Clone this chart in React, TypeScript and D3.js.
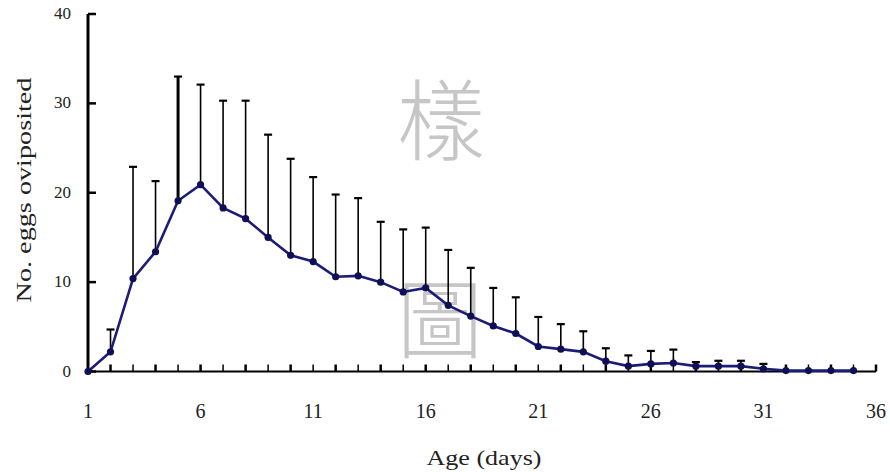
import React from "react";
import * as d3 from "d3";

const days = [1,2,3,4,5,6,7,8,9,10,11,12,13,14,15,16,17,18,19,20,21,22,23,24,25,26,27,28,29,30,31,32,33,34,35];
const meanEggs = [0,2.2,10.4,13.4,19.1,20.9,18.3,17.1,15.0,13.0,12.3,10.6,10.7,10.0,8.9,9.35,7.4,6.2,5.1,4.25,2.8,2.5,2.2,1.15,0.6,0.85,0.95,0.6,0.6,0.6,0.3,0.1,0.1,0.1,0.1];
const upperEggs = [0,4.7,22.9,21.3,33.0,32.1,30.3,30.3,26.5,23.8,21.75,19.8,19.4,16.75,15.9,16.1,13.6,11.6,9.35,8.3,6.1,5.3,4.5,2.6,1.8,2.3,2.45,1.05,1.2,1.2,0.85,0.1,0.1,0.1,0.1];
const xTicks = [1,6,11,16,21,26,31,36];
const yTicks = [0,10,20,30,40];

const W = 890, H = 472;
const SERIF = "'Times New Roman', 'Liberation Serif', Times, serif";

export default function App() {
  const x = d3.scaleLinear().domain([1, 36]).range([88, 876]);
  const y = d3.scaleLinear().domain([0, 40]).range([371.5, 14]);
  const line = d3.line<number>().x((_, i) => x(days[i])).y((d) => y(d));
  const allDays = d3.range(1, 37);
  return (
    <svg width={W} height={H} style={{ position: "absolute", left: 0, top: 0, background: "#fff" }}>
      <rect width={W} height={H} fill="#fff" />
      {/* watermark */}
      <text x={441} y={153} fontSize={88} fill="#c6c6c6" textAnchor="middle" fontFamily="'Noto Sans CJK TC', sans-serif" fontWeight={300}>樣</text>
      <text x={440} y={352} fontSize={86} fill="#c6c6c6" textAnchor="middle" fontFamily="'Noto Sans CJK TC', sans-serif" fontWeight={300}>圖</text>

      {/* error bars */}
      {days.map((d, i) =>
        upperEggs[i] - meanEggs[i] > 0.2 ? (
          <g key={"e" + d} stroke="#000">
            <line x1={x(d)} x2={x(d)} y1={y(meanEggs[i])} y2={y(upperEggs[i])} strokeWidth={d === 5 ? 3 : 1.6} />
            <line x1={x(d) - 4} x2={x(d) + 4} y1={y(upperEggs[i])} y2={y(upperEggs[i])} strokeWidth={2.2} />
          </g>
        ) : null
      )}

      {/* axes */}
      <line x1={88} x2={88} y1={y(40)} y2={y(0)} stroke="#000" strokeWidth={3} />
      <line x1={86.5} x2={x(36)} y1={y(0)} y2={y(0)} stroke="#000" strokeWidth={2} />
      {yTicks.map((t) => (
        <g key={"yt" + t}>
          <line x1={88} x2={96} y1={y(t)} y2={y(t)} stroke="#000" strokeWidth={2.5} />
          <text x={71} y={y(t) + 5} fontSize={17} textAnchor="end" fontFamily={SERIF} fill="#222">{t}</text>
        </g>
      ))}
      {allDays.map((d) => (
        <line key={"xt" + d} x1={x(d)} x2={x(d)} y1={y(0)} y2={y(0) - 7} stroke="#000" strokeWidth={d % 2 === 0 ? 2.5 : 1.5} />
      ))}
      {xTicks.map((t) => (
        <text key={"xl" + t} x={x(t)} y={418} fontSize={20} textAnchor="middle" fontFamily={SERIF} fill="#222">{t}</text>
      ))}

      {/* series */}
      <path d={line(meanEggs) || ""} fill="none" stroke="#1c1c78" strokeWidth={2.6} />
      {days.map((d, i) => (
        <circle key={"p" + d} cx={x(d)} cy={y(meanEggs[i])} r={3.6} fill="#0f0f55" />
      ))}

      {/* axis titles */}
      <text x={484} y={465} fontSize={21} textAnchor="middle" fontFamily={SERIF} fill="#222" textLength={115} lengthAdjust="spacingAndGlyphs">Age (days)</text>
      <text transform="translate(31,190) rotate(-90)" fontSize={22} textAnchor="middle" fontFamily={SERIF} fill="#222" textLength={225} lengthAdjust="spacingAndGlyphs">No. eggs oviposited</text>
    </svg>
  );
}
